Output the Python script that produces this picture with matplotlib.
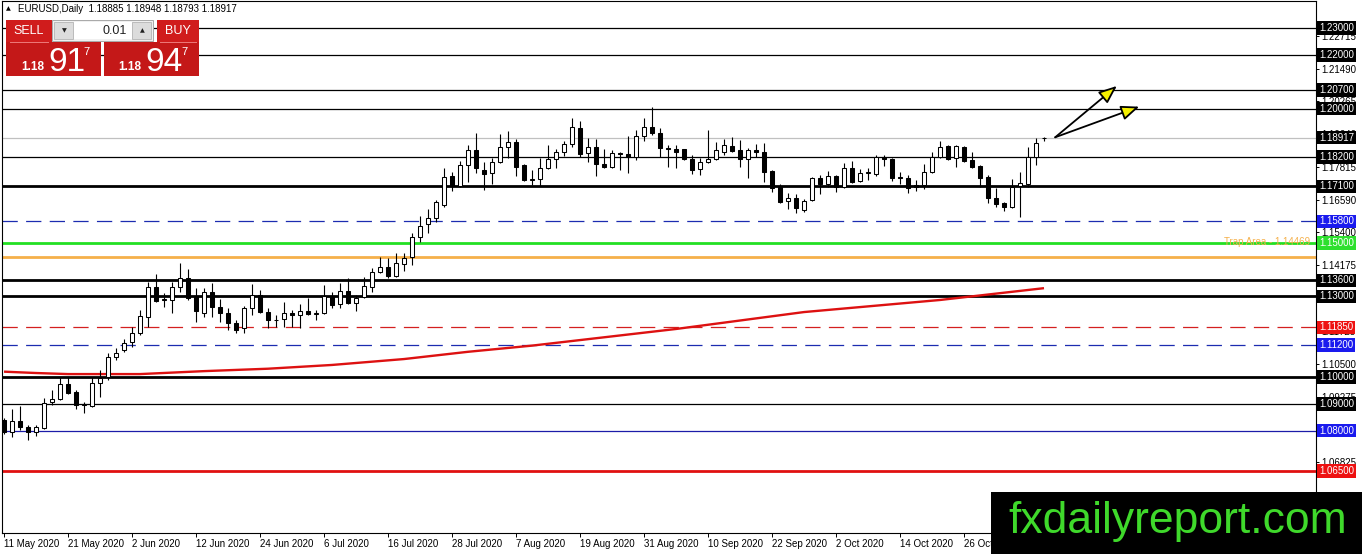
import matplotlib
matplotlib.use("Agg")
import matplotlib.pyplot as plt
from matplotlib.patches import Rectangle, FancyArrowPatch
from matplotlib.lines import Line2D
from matplotlib.transforms import blended_transform_factory

plt.rcParams['font.family'] = ['Liberation Sans', 'DejaVu Sans']
plt.rcParams['lines.scale_dashes'] = False

W, H = 1362, 554

# daily candles, 11 May 2020 .. 9 Nov 2020 (bar index = trading day)
opens = [1.0840, 1.0795, 1.0836, 1.0814, 1.0795, 1.0810, 1.0907, 1.0918, 1.0974, 1.0944,
         1.0896, 1.0892, 1.0978, 1.1000, 1.1075, 1.1101, 1.1131, 1.1164, 1.1224, 1.1335,
         1.1287, 1.1287, 1.1335, 1.1369, 1.1298, 1.1239, 1.1317, 1.1261, 1.1239, 1.1201,
         1.1183, 1.1257, 1.1306, 1.1242, 1.1212, 1.1216, 1.1239, 1.1231, 1.1246, 1.1235,
         1.1239, 1.1302, 1.1272, 1.1320, 1.1276, 1.1298, 1.1335, 1.1391, 1.1410, 1.1376,
         1.1421, 1.1447, 1.1522, 1.1570, 1.1592, 1.1641, 1.1749, 1.1712, 1.1790, 1.1846,
         1.1771, 1.1760, 1.1801, 1.1857, 1.1875, 1.1790, 1.1734, 1.1738, 1.1779, 1.1812,
         1.1838, 1.1868, 1.1928, 1.1834, 1.1857, 1.1793, 1.1782, 1.1834, 1.1831, 1.1820,
         1.1898, 1.1931, 1.1909, 1.1853, 1.1849, 1.1849, 1.1812, 1.1775, 1.1801, 1.1812,
         1.1838, 1.1861, 1.1846, 1.1812, 1.1846, 1.1838, 1.1767, 1.1708, 1.1656, 1.1667,
         1.1622, 1.1659, 1.1741, 1.1719, 1.1749, 1.1708, 1.1779, 1.1730, 1.1760, 1.1756,
         1.1820, 1.1812, 1.1745, 1.1741, 1.1715, 1.1715, 1.1764, 1.1820, 1.1861, 1.1816,
         1.1857, 1.1808, 1.1786, 1.1745, 1.1667, 1.1648, 1.1633, 1.1712, 1.1719, 1.1820,
         1.18885]
highs = [1.0847, 1.0881, 1.0892, 1.0822, 1.0822, 1.0922, 1.0952, 1.1000, 1.1000, 1.0952,
         1.0907, 1.1000, 1.1026, 1.1089, 1.1108, 1.1142, 1.1186, 1.1250, 1.1354, 1.1384,
         1.1313, 1.1354, 1.1425, 1.1402, 1.1332, 1.1332, 1.1350, 1.1291, 1.1257, 1.1212,
         1.1265, 1.1347, 1.1324, 1.1257, 1.1231, 1.1280, 1.1250, 1.1272, 1.1295, 1.1250,
         1.1343, 1.1317, 1.1350, 1.1369, 1.1306, 1.1373, 1.1406, 1.1447, 1.1443, 1.1462,
         1.1462, 1.1537, 1.1600, 1.1626, 1.1659, 1.1779, 1.1764, 1.1805, 1.1864, 1.1909,
         1.1801, 1.1816, 1.1905, 1.1916, 1.1887, 1.1792, 1.1771, 1.1816, 1.1864, 1.1849,
         1.1879, 1.1965, 1.1954, 1.1890, 1.1887, 1.1849, 1.1846, 1.1838, 1.1898, 1.1920,
         1.1965, 1.2006, 1.1928, 1.1864, 1.1864, 1.1851, 1.1827, 1.1816, 1.1920, 1.1875,
         1.1887, 1.1894, 1.1883, 1.1853, 1.1868, 1.1872, 1.1771, 1.1719, 1.1686, 1.1682,
         1.1663, 1.1745, 1.1752, 1.1767, 1.1751, 1.1797, 1.1805, 1.1775, 1.1779, 1.1827,
         1.1827, 1.1816, 1.1764, 1.1752, 1.1734, 1.1793, 1.1838, 1.1879, 1.1864, 1.1864,
         1.1860, 1.1838, 1.1788, 1.1752, 1.1704, 1.1652, 1.1738, 1.1764, 1.1857, 1.1890,
         1.18948]
lows = [1.0788, 1.0777, 1.0803, 1.0766, 1.0780, 1.0806, 1.0896, 1.0915, 1.0937, 1.0881,
        1.0866, 1.0888, 1.0926, 1.0989, 1.1063, 1.1093, 1.1112, 1.1157, 1.1186, 1.1280,
        1.1261, 1.1239, 1.1317, 1.1287, 1.1205, 1.1224, 1.1224, 1.1205, 1.1175, 1.1164,
        1.1164, 1.1231, 1.1239, 1.1183, 1.1186, 1.1186, 1.1186, 1.1183, 1.1231, 1.1212,
        1.1235, 1.1257, 1.1257, 1.1272, 1.1246, 1.1295, 1.1317, 1.1388, 1.1369, 1.1373,
        1.1395, 1.1417, 1.1503, 1.1537, 1.1578, 1.1633, 1.1693, 1.1708, 1.1726, 1.1760,
        1.1697, 1.1719, 1.1797, 1.1816, 1.1749, 1.1730, 1.1715, 1.1712, 1.1775, 1.1779,
        1.1823, 1.1857, 1.1820, 1.1801, 1.1749, 1.1779, 1.1779, 1.1771, 1.1760, 1.1808,
        1.1879, 1.1902, 1.1820, 1.1782, 1.1779, 1.1808, 1.1756, 1.1752, 1.1797, 1.1808,
        1.1827, 1.1838, 1.1782, 1.1741, 1.1820, 1.1726, 1.1689, 1.1648, 1.1626, 1.1611,
        1.1615, 1.1656, 1.1682, 1.1708, 1.1689, 1.1704, 1.1723, 1.1726, 1.1734, 1.1749,
        1.1786, 1.1730, 1.1719, 1.1686, 1.1693, 1.1701, 1.1760, 1.1816, 1.1808, 1.1782,
        1.1801, 1.1779, 1.1708, 1.1648, 1.1633, 1.1618, 1.1630, 1.1596, 1.1708, 1.1790,
        1.18793]
closes = [1.0795, 1.0836, 1.0814, 1.0795, 1.0814, 1.0903, 1.0918, 1.0974, 1.0941, 1.0896,
          1.0898, 1.0978, 1.0996, 1.1075, 1.1089, 1.1127, 1.1164, 1.1227, 1.1335, 1.1283,
          1.1290, 1.1335, 1.1369, 1.1295, 1.1246, 1.1317, 1.1261, 1.1239, 1.1201, 1.1175,
          1.1257, 1.1306, 1.1242, 1.1212, 1.1214, 1.1239, 1.1231, 1.1246, 1.1235, 1.1239,
          1.1302, 1.1268, 1.1320, 1.1276, 1.1295, 1.1339, 1.1391, 1.1410, 1.1376, 1.1425,
          1.1443, 1.1522, 1.1563, 1.1592, 1.1652, 1.1745, 1.1712, 1.1790, 1.1846, 1.1779,
          1.1756, 1.1801, 1.1857, 1.1875, 1.1782, 1.1734, 1.1736, 1.1779, 1.1812, 1.1838,
          1.1868, 1.1931, 1.1831, 1.1857, 1.1793, 1.1782, 1.1834, 1.1831, 1.1820, 1.1898,
          1.1931, 1.1909, 1.1853, 1.1849, 1.1838, 1.1812, 1.1771, 1.1801, 1.1812, 1.1846,
          1.1864, 1.1842, 1.1812, 1.1846, 1.1838, 1.1764, 1.1704, 1.1652, 1.1667, 1.1630,
          1.1656, 1.1741, 1.1719, 1.1749, 1.1708, 1.1779, 1.1726, 1.1760, 1.1762, 1.1820,
          1.1812, 1.1741, 1.1741, 1.1704, 1.1708, 1.1764, 1.1820, 1.1857, 1.1812, 1.1861,
          1.1805, 1.1782, 1.1741, 1.1667, 1.1644, 1.1633, 1.1708, 1.1723, 1.1820, 1.1872,
          1.18917]

# moving average (read at a few bars)
ma_idx = [0, 4, 8, 17, 25, 33, 41, 50, 58, 66, 84, 100, 117, 130]
ma_val = [1.1020, 1.1015, 1.1011, 1.1011, 1.1022, 1.1031, 1.1045, 1.1067, 1.1094,
          1.1117, 1.1179, 1.1242, 1.1287, 1.1331]

date_idx = [0, 8, 16, 24, 32, 40, 48, 56, 64, 72, 80, 88, 96, 104, 112, 120, 128]
date_labels = ['11 May 2020', '21 May 2020', '2 Jun 2020', '12 Jun 2020', '24 Jun 2020',
               '6 Jul 2020', '16 Jul 2020', '28 Jul 2020', '7 Aug 2020', '19 Aug 2020',
               '31 Aug 2020', '10 Sep 2020', '22 Sep 2020', '2 Oct 2020', '14 Oct 2020',
               '26 Oct 2020', '5 Nov 2020']

price_ticks = [1.22715, 1.21490, 1.20265, 1.19040, 1.17815, 1.16590, 1.15400, 1.14175,
               1.12950, 1.11725, 1.10500, 1.09275, 1.08050, 1.06825]

# horizontal levels drawn on the chart
levels = [1.23000, 1.22000, 1.20700, 1.20000, 1.18917, 1.18200, 1.17100, 1.15800, 1.15000,
          1.14469, 1.13600, 1.13000, 1.11850, 1.11200, 1.10000, 1.09000, 1.08000, 1.06500]
level_colors = ['black', 'black', 'black', 'black', '#c0c0c0', 'black', 'black', '#1c2cb0',
                '#22e022', '#f5b04a', 'black', 'black', '#d42020', '#1c2cb0', 'black', 'black',
                '#1c1ca8', '#e01010']
level_widths = [0.9, 0.9, 0.9, 0.9, 0.9, 0.9, 2.0, 0.9, 2.0, 2.0, 2.0, 2.0, 0.9, 0.9, 2.0, 0.9,
                0.9, 2.0]
level_dashed = [False] * 7 + [True] + [False] * 4 + [True, True] + [False] * 4
label_bg = ['black', 'black', 'black', 'black', 'black', 'black', 'black', '#1a1aee',
            '#2ee02e', None, 'black', 'black', '#ee1111', '#1a1aee', 'black', 'black',
            '#1a1aee', '#ee1111']

fig = plt.figure(figsize=(W / 100, H / 100), dpi=100)
ax = fig.add_axes([2 / W, (H - 533) / H, (1316 - 2) / W, (533 - 1) / H])
ax.set_xlim(-0.25, 164)
ax.set_ylim(1.04191, 1.24006)
for s in ax.spines.values():
    s.set_color('black')
    s.set_linewidth(0.8)

for lv, col, lw, dsh in zip(levels, level_colors, level_widths, level_dashed):
    ls = (0, (11, 6)) if dsh else '-'
    ax.axhline(lv, color=col, lw=lw, ls=ls, zorder=1)

ax.plot(ma_idx, ma_val, color='#dd1111', lw=1.7, zorder=2, solid_capstyle='butt')

bw = 0.55
for i, (o, h, l, c) in enumerate(zip(opens, highs, lows, closes)):
    ax.vlines(i, l, h, color='black', lw=0.8, zorder=3)
    fc = 'white' if c >= o else 'black'
    ax.add_patch(Rectangle((i - bw / 2, min(o, c)), bw, abs(c - o), fc=fc, ec='black',
                           lw=0.75, zorder=4))

# arrows
arrow_start = (131.4, 1.1893)
arrow_tips = [(139.1, 1.2084), (141.9, 1.2007)]
for tip in arrow_tips:
    ax.add_patch(FancyArrowPatch(arrow_start, tip,
                                 arrowstyle='-|>,head_length=1.1,head_width=0.45',
                                 mutation_scale=10, fc='#f5f000', ec='black', lw=1.3,
                                 shrinkA=0, shrinkB=0, zorder=6))

bt = blended_transform_factory(ax.transAxes, ax.transData)
ax.annotate('Trap Area - 1.14469', xy=(1, 1.14469), xycoords=bt, xytext=(-4, 7),
            textcoords='offset points', ha='right', va='bottom', color='#f5b04a',
            fontsize=7)

# axes ticks
ax.yaxis.tick_right()
ax.set_yticks(price_ticks)
ax.set_yticklabels(['%.5f' % v for v in price_ticks])
ax.tick_params(axis='y', length=2.5, width=0.7, pad=1.5, labelsize=7, colors='black')
ax.set_xticks(date_idx)
ax.set_xticklabels(date_labels, ha='left')
ax.tick_params(axis='x', length=3, width=0.7, pad=1.5, labelsize=7, colors='black')
for lbl in ax.get_xticklabels():
    lbl.set_x(lbl.get_position()[0])

for lv, bg in zip(levels, label_bg):
    if bg is None:
        continue
    ax.text(1.0 + 3 / 1314, lv, '%.5f' % lv, transform=bt, ha='left', va='center',
            fontsize=7, color='white', clip_on=False, zorder=8,
            bbox=dict(boxstyle='square,pad=0.18', fc=bg, ec='none'))


def fig_rect(x0, y0, x1, y1, **kw):
    fig.patches.append(Rectangle((x0 / W, 1 - y1 / H), (x1 - x0) / W, (y1 - y0) / H,
                                 transform=fig.transFigure, **kw))


def fig_txt(x, y, s, **kw):
    fig.text(x / W, 1 - y / H, s, **kw)


# one-click trading panel
red = '#d01c1c'
fig_rect(6, 20, 52, 42, fc=red, ec='none')
fig_rect(6, 42, 101, 76, fc='#c41818', ec='none')
fig_rect(157, 20, 199, 42, fc=red, ec='none')
fig_rect(104, 42, 199, 76, fc='#c41818', ec='none')
fig_rect(52, 20, 153, 41, fc='#f0f0f0', ec='#a8a8a8', lw=0.7)
fig_rect(54, 22, 73, 39, fc='#dcdcdc', ec='#b4b4b4', lw=0.6)
fig_rect(74, 22, 132, 39, fc='white', ec='none')
fig_rect(132, 22, 151, 39, fc='#dcdcdc', ec='#b4b4b4', lw=0.6)
for xa, xb in [(10, 48), (160, 196)]:
    fig.lines.append(Line2D([xa / W, xb / W], [1 - 42 / H, 1 - 42 / H], color='#ee7a7a',
                            lw=0.7, transform=fig.transFigure))
fig_txt(29, 31, 'SELL', color='white', fontsize=9, ha='center', va='center')
fig_txt(178, 31, 'BUY', color='white', fontsize=9, ha='center', va='center')
fig_txt(64, 31, '\u25bc', color='#202020', fontsize=4.5, ha='center', va='center',
        family='DejaVu Sans')
fig_txt(142, 31, '\u25b2', color='#202020', fontsize=4.5, ha='center', va='center',
        family='DejaVu Sans')
fig_txt(127, 31, '0.01', color='#202020', fontsize=9, ha='right', va='center')
fig_txt(21, 70, '1.18', color='white', fontsize=8.5, weight='bold', ha='left', va='baseline')
fig_txt(48, 71, '91', color='white', fontsize=24, ha='left', va='baseline')
fig_txt(83, 55, '7', color='white', fontsize=8, ha='left', va='baseline')
fig_txt(118, 70, '1.18', color='white', fontsize=8.5, weight='bold', ha='left', va='baseline')
fig_txt(145, 71, '94', color='white', fontsize=24, ha='left', va='baseline')
fig_txt(181, 55, '7', color='white', fontsize=8, ha='left', va='baseline')

fig_txt(6, 9, '\u25b2', color='black', fontsize=4.5, ha='left', va='center',
        family='DejaVu Sans')
fig_txt(18, 9, 'EURUSD,Daily  1.18885 1.18948 1.18793 1.18917', color='black',
        fontsize=7, ha='left', va='center')

# watermark
fig_rect(991, 492, W, H, fc='black', ec='none', zorder=10)
fig_txt(1008, 533, 'fxdailyreport.com', color='#3fd92b', fontsize=32, ha='left',
        va='baseline', zorder=11)

fig.savefig('out.png', dpi=100, facecolor='white')
